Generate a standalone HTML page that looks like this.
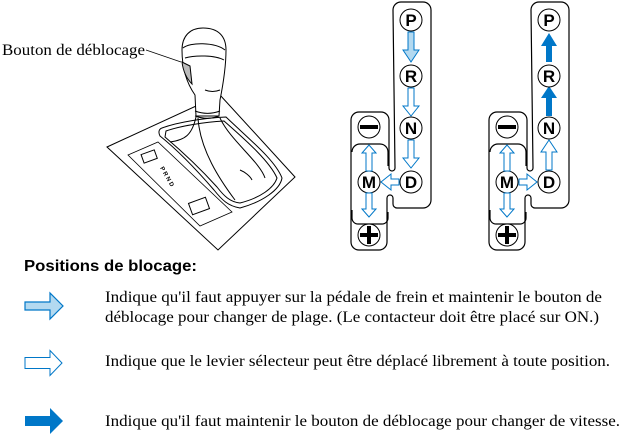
<!DOCTYPE html>
<html><head><meta charset="utf-8"><style>
html,body{margin:0;padding:0;background:#fff;width:622px;height:434px;overflow:hidden}
svg{display:block}
.s{font-family:"Liberation Serif",serif;font-size:16px;fill:#000}
.b{font-family:"Liberation Sans",sans-serif;font-weight:bold;font-size:17px;fill:#000;text-anchor:middle}
</style></head><body>
<svg width="622" height="434" viewBox="0 0 622 434" xmlns="http://www.w3.org/2000/svg">
<defs>
<g id="gate">
 <path d="M393,10 a8,8 0 0 1 8,-8 h22 a8,8 0 0 1 8,8 v190 a8,8 0 0 1 -8,8 h-26 a4,4 0 0 1 -4,-4 v-6 a3,3 0 0 0 -6,0 v44 a8,8 0 0 1 -8,8 h-20 a8,8 0 0 1 -8,-8 v-122 a8,8 0 0 1 8,-8 h22 a8,8 0 0 1 8,8 v48 a3,3 0 0 0 6,0 z" fill="#fff" stroke="#000" stroke-width="1.2"/>
 <path d="M352,152 a8,8 0 0 1 8,-8 h20 a8,8 0 0 1 8,8 v14" fill="none" stroke="#000" stroke-width="1.2"/>
 <path d="M352,210 v8 a6,6 0 0 0 6,6 h24 a6,6 0 0 0 6,-6 v-6" fill="none" stroke="#000" stroke-width="1.2"/>
 <g stroke="#000" stroke-width="1" fill="#fff">
  <circle cx="369" cy="127" r="11"/><circle cx="369" cy="182" r="11"/><circle cx="369" cy="235" r="11"/>
 </g>
 <rect x="360" y="125" width="18" height="4" fill="#000"/>
 <rect x="360" y="233" width="18" height="4" fill="#000"/><rect x="367" y="226" width="4" height="18" fill="#000"/>
 <text x="369" y="188" class="b">M</text>
 <path d="M369,145 l-7,8 h4 v18 h6 v-18 h4 z M369,217 l-7,-8 h4 v-16 h6 v16 h4 z" fill="#fff" stroke="#0077c8" stroke-width="1"/>
</g>
<g id="circs">
 <g stroke="#000" stroke-width="1" fill="#fff">
  <circle cx="411" cy="20" r="11"/><circle cx="411" cy="76" r="11"/><circle cx="411" cy="128" r="11"/><circle cx="411" cy="182" r="11"/>
 </g>
 <text x="411" y="26" class="b">P</text><text x="411" y="82" class="b">R</text><text x="411" y="134" class="b">N</text><text x="411" y="188" class="b">D</text>
</g>
</defs>
<use href="#gate"/>
<path d="M408,32 h6 v18 h5 l-8,12 l-8,-12 h5 z" fill="#b3d9f0" stroke="#0077c8" stroke-width="1"/>
<path d="M408,88 h6 v18 h5 l-8,10 l-8,-10 h5 z M408,140 h6 v18 h5 l-8,10 l-8,-10 h5 z" fill="#fff" stroke="#0077c8" stroke-width="1"/>
<path d="M399,179 v6 h-8 v5 l-10,-8 l10,-8 v5 z" fill="#fff" stroke="#0077c8" stroke-width="1"/>
<use href="#circs"/>
<g transform="translate(138,0)">
 <use href="#gate"/>
 <path d="M408,62 h6 v-16 h5 l-8,-13 l-8,13 h5 z M408,116 h6 v-18 h5 l-8,-12 l-8,12 h5 z" fill="#0077c8"/>
 <path d="M408,170 h6 v-18 h5 l-8,-12 l-8,12 h5 z" fill="#fff" stroke="#0077c8" stroke-width="1"/>
 <path d="M381,179 v6 h8 v5 l10,-8 l-10,-8 v5 z" fill="#fff" stroke="#0077c8" stroke-width="1"/>
 <use href="#circs"/>
</g>
<!-- shifter -->
<g fill="none" stroke="#000" stroke-width="1">
 <path d="M107,147 L220,95 L295,177 L218,250 Z" fill="#fff"/>
 <path d="M128,155 L158,142 L232,212 L200,226 Z" stroke-width="0.8"/>
 <rect x="142" y="152" width="14" height="9" transform="rotate(-20 149 156)"/>
 <rect x="190" y="200" width="18" height="12" transform="rotate(-20 199 206)"/>
 <path d="M162,128 C178,122 205,118 226,117 C250,140 275,160 282,178 C280,190 262,202 240,208 C228,206 222,200 214,190 C195,168 175,148 160,136 C158,132 159,129 162,128 Z" fill="#fff"/>
 <path d="M166,131 C180,126 205,122 224,121 C248,142 270,162 277,178 C274,188 260,198 240,203 C230,202 224,196 217,187 C198,166 178,148 165,137 Z"/>
 <path d="M196,117 C192,135 185,140 170,142 M198,118 C200,150 220,180 235,200 M220,118 C230,140 260,162 265,178 M240,170 C245,172 250,176 252,180"/>
 <path d="M196,116 L195,95 C188,85 182,70 182,50 C182,36 190,28 203,28 C218,28 226,36 226,50 C226,70 222,90 220,100 L219,116 Z" fill="#fff"/>
 <path d="M195,116 C203,119 212,119 219,116 M195,111 C203,114 212,114 220,111"/>
 <path d="M183,48 C190,42 215,42 225,50 M185,58 C195,55 215,55 224,60"/>
 <path d="M182,62 C183,70 186,78 192,84 L190,66 Z" fill="#bbb"/>
 <path d="M205,90 C210,92 215,92 220,90"/>
 <path d="M146,50 L181,62" stroke-width="0.7"/>
</g>
<text x="160" y="168" font-family="Liberation Sans" font-size="6" font-weight="bold" transform="rotate(60 160 168)">P R N D</text>
<text x="2" y="55" class="s" textLength="143" lengthAdjust="spacingAndGlyphs">Bouton de déblocage</text>
<text x="24" y="271" font-family="Liberation Sans,sans-serif" font-weight="bold" font-size="16" textLength="173" lengthAdjust="spacingAndGlyphs">Positions de blocage:</text>
<path d="M25,302 h25 v-9 l13,13 l-13,13 v-9 h-25 z" fill="#b3d9f0" stroke="#0077c8" stroke-width="1.2"/>
<path d="M25,357.5 h25 v-7 l12,12.5 l-12,12.5 v-7 h-25 z" fill="#fff" stroke="#0077c8" stroke-width="1"/>
<path d="M25,416 h25 v-8 l13,13 l-13,13 v-8 h-25 z" fill="#0077c8"/>
<text x="105" y="302" class="s" textLength="497" lengthAdjust="spacingAndGlyphs">Indique qu'il faut appuyer sur la pédale de frein et maintenir le bouton de</text>
<text x="105" y="322" class="s" textLength="494" lengthAdjust="spacingAndGlyphs">déblocage pour changer de plage. (Le contacteur doit être placé sur ON.)</text>
<text x="105" y="366" class="s" textLength="505" lengthAdjust="spacingAndGlyphs">Indique que le levier sélecteur peut être déplacé librement à toute position.</text>
<text x="105" y="426" class="s" textLength="515" lengthAdjust="spacingAndGlyphs">Indique qu'il faut maintenir le bouton de déblocage pour changer de vitesse.</text>
</svg>
</body></html>
